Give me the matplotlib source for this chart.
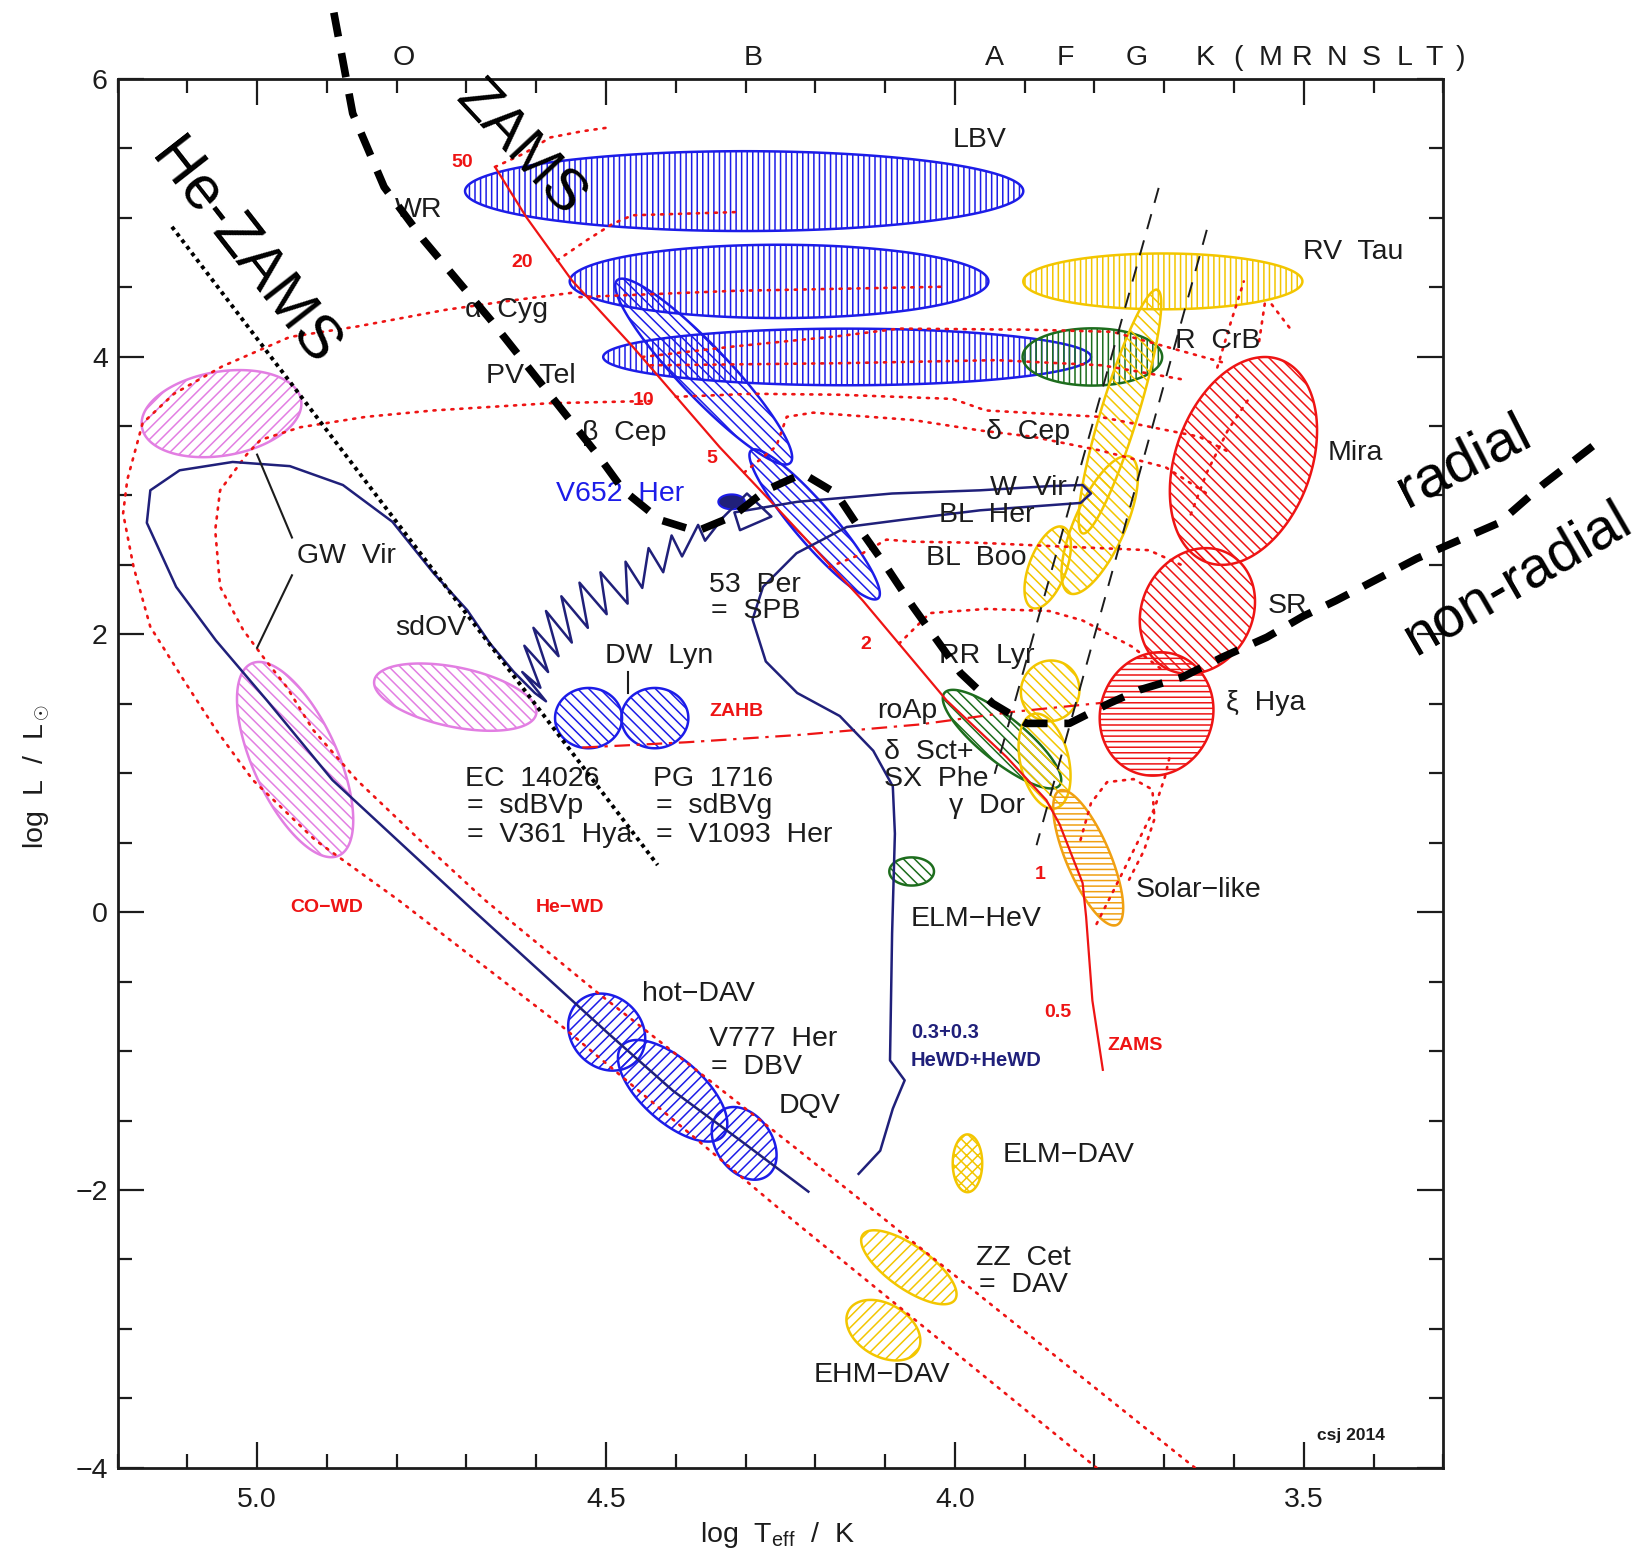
import numpy as np
import matplotlib
matplotlib.use("Agg")
import matplotlib.pyplot as plt
from matplotlib.patches import Polygon
from matplotlib.ticker import MultipleLocator

plt.rcParams['font.family'] = ['Liberation Sans', 'DejaVu Sans']
plt.rcParams['mathtext.fontset'] = 'custom'
plt.rcParams['mathtext.rm'] = 'Liberation Sans'
plt.rcParams['mathtext.it'] = 'Liberation Sans:italic'
plt.rcParams['hatch.linewidth'] = 1.1

# ---------------- data: log Teff / log L ----------------
# zero-age main sequence
zams_T = [4.659, 4.614, 4.549, 4.462, 4.337, 4.266, 4.203, 4.132, 4.012, 3.926, 3.869, 3.850, 3.817, 3.812, 3.803, 3.788]
zams_L = [5.365, 5.002, 4.549, 4.073, 3.347, 2.969, 2.629, 2.243, 1.525, 1.117, 0.807, 0.633, 0.210, -0.032, -0.636, -1.135]

# zero-age horizontal branch
zahb_T = [4.534, 4.385, 4.223, 4.051, 3.917, 3.783]
zahb_L = [1.185, 1.223, 1.276, 1.351, 1.442, 1.510]

# evolutionary tracks (dotted)
co_wd_T = [4.550, 4.633, 4.729, 4.857, 4.953, 5.050, 5.119, 5.164, 5.186, 5.192, 5.177, 5.153, 5.105, 5.059, 5.006, 4.917, 4.798, 4.564, 4.229, 3.797]
co_wd_L = [4.458, 4.405, 4.337, 4.216, 4.141, 3.929, 3.732, 3.521, 3.113, 2.871, 2.485, 2.054, 1.669, 1.314, 0.951, 0.520, 0.089, -0.818, -2.231, -4.000]
he_wd_T = [4.436, 4.580, 4.747, 4.844, 4.938, 4.995, 5.015, 5.053, 5.060, 5.053, 5.020, 4.991, 4.958, 4.920, 4.857, 4.767, 4.674, 4.513, 4.229, 3.656]
he_wd_L = [3.680, 3.664, 3.612, 3.566, 3.491, 3.400, 3.294, 3.037, 2.750, 2.342, 2.032, 1.835, 1.624, 1.314, 0.951, 0.520, 0.089, -0.576, -1.695, -4.000]
trk50_T = [4.659, 4.617, 4.580, 4.534, 4.492]
trk50_L = [5.365, 5.463, 5.577, 5.622, 5.652]
trk20_T = [4.570, 4.528, 4.490, 4.462, 4.313]
trk20_L = [4.692, 4.836, 4.957, 5.017, 5.040]
trk15_T = [4.538, 4.316, 4.012]
trk15_L = [4.428, 4.473, 4.503]
trk12a_T = [4.448, 4.316, 4.165, 4.080, 3.889, 3.774, 3.699, 3.617]
trk12a_L = [3.997, 4.073, 4.148, 4.201, 4.193, 4.178, 4.073, 3.959]
trk12b_T = [4.436, 4.165, 3.940, 3.789, 3.669]
trk12b_L = [3.937, 3.952, 3.974, 3.937, 3.831]
trk10_T = [4.400, 4.290, 4.165, 4.003, 3.956, 3.792, 3.650, 3.609]
trk10_L = [3.710, 3.732, 3.725, 3.695, 3.612, 3.566, 3.423, 3.317]
trk7_T = [4.302, 4.256, 4.241, 4.203, 4.060, 3.964, 3.889, 3.792, 3.698, 3.639]
trk7_L = [3.165, 3.354, 3.566, 3.596, 3.543, 3.468, 3.423, 3.324, 3.203, 3.014]
trk4_T = [4.180, 4.135, 4.098, 4.060, 3.964, 3.865, 3.722, 3.669]
trk4_L = [2.485, 2.576, 2.682, 2.667, 2.659, 2.636, 2.606, 2.485]
trk2_T = [4.080, 4.036, 3.955, 3.865, 3.817, 3.746, 3.699]
trk2_L = [1.933, 2.153, 2.183, 2.168, 2.100, 1.911, 1.729]
trk1a_T = [3.820, 3.805, 3.782, 3.744, 3.717, 3.714, 3.729, 3.752]
trk1a_L = [0.520, 0.785, 0.936, 0.958, 0.883, 0.671, 0.444, 0.218]
trk1b_T = [3.797, 3.774, 3.744, 3.714, 3.699, 3.692]
trk1b_L = [-0.085, 0.142, 0.444, 0.747, 0.974, 1.125]
agb1_T, agb1_L = [3.624, 3.606, 3.586], [3.921, 4.224, 4.541]
agb2_T, agb2_L = [3.564, 3.555], [4.110, 4.413]
agb3_T, agb3_L = [3.546, 3.516], [4.375, 4.178]
agb4_T, agb4_L = [3.662, 3.639, 3.609, 3.579], [2.863, 3.165, 3.468, 3.695]

# post-AGB / white dwarf cooling track, He-flash loops, HeWD+HeWD merger
cool_T = [4.210, 4.302, 4.404, 4.499, 4.692, 4.892, 4.986, 5.059, 5.116, 5.158, 5.153, 5.111, 5.035, 4.953, 4.877, 4.806, 4.747, 4.699, 4.666, 4.632, 4.602, 4.586]
cool_L = [-2.012, -1.664, -1.286, -0.863, 0.021, 0.951, 1.525, 1.956, 2.342, 2.803, 3.037, 3.181, 3.241, 3.211, 3.075, 2.810, 2.440, 2.175, 1.933, 1.729, 1.578, 1.518]
flash_T = [4.620, 4.594, 4.617, 4.583, 4.604, 4.568, 4.586, 4.549, 4.564, 4.526, 4.538, 4.499, 4.508, 4.469, 4.472, 4.448, 4.439, 4.418, 4.406, 4.391, 4.368, 4.358, 4.331]
flash_L = [1.729, 1.616, 1.918, 1.729, 2.047, 1.843, 2.168, 1.941, 2.274, 2.047, 2.372, 2.145, 2.447, 2.221, 2.523, 2.334, 2.621, 2.447, 2.712, 2.561, 2.788, 2.674, 2.848]
loop_T = [4.298, 4.263, 4.308, 4.316, 4.226, 4.090, 3.964, 3.865, 3.817, 3.805, 3.820, 3.964, 4.075, 4.155]
loop_L = [3.014, 2.848, 2.750, 2.878, 2.954, 3.014, 3.037, 3.067, 3.075, 3.014, 2.946, 2.893, 2.825, 2.773]
merger_T = [4.227, 4.275, 4.290, 4.271, 4.226, 4.165, 4.117, 4.089, 4.086, 4.090, 4.093, 4.072, 4.084, 4.089, 4.107, 4.138]
merger_L = [2.584, 2.342, 2.107, 1.805, 1.578, 1.412, 1.162, 0.906, 0.565, -0.153, -1.067, -1.211, -1.354, -1.415, -1.717, -1.884]

# classical instability strip edges
strip_blue_T, strip_blue_L = [3.708, 3.943], [5.214, 0.996]
strip_red_T, strip_red_L = [3.639, 3.883], [4.912, 0.482]

# helium main sequence
he_zams_T, he_zams_L = [5.122, 4.426], [4.934, 0.339]

# radial / non-radial divide
divide_T = [4.890, 4.863, 4.818, 4.761, 4.665, 4.585, 4.510, 4.475, 4.423, 4.370, 4.319, 4.271, 4.218, 4.170,
            4.132, 4.098, 4.060, 3.992, 3.946, 3.898, 3.836, 3.779, 3.735, 3.674, 3.617, 3.553, 3.501, 3.454,
            3.338, 3.220, 3.158, 3.086]
divide_L = [6.476, 5.751, 5.221, 4.836, 4.262, 3.755, 3.279, 3.037, 2.825, 2.742, 2.848, 3.037, 3.158, 3.014,
            2.727, 2.485, 2.198, 1.722, 1.503, 1.359, 1.359, 1.503, 1.601, 1.692, 1.835, 1.979, 2.130, 2.243,
            2.546, 2.803, 3.075, 3.355]

# pulsator regions: ends of the major axis and minor/major axis ratio
reg_name = ['LBV', 'aCyg', 'PVTel', 'bCep', 'SPB', 'DWLyn1', 'DWLyn2', 'hotDAV', 'DBV', 'DQV',
            'ELMHeV', 'RCrB', 'dSct', 'RVTau', 'dCep', 'WVir', 'BLBoo', 'RRLyr', 'gDor', 'solar',
            'Mira', 'SR', 'xiHya', 'GWVir1', 'GWVir2', 'sdOV', 'ELMDAV', 'DAV', 'EHMDAV', 'V652']
reg_T1 = [4.702, 4.552, 4.504, 4.484, 4.292, 4.573, 4.478, 4.541, 4.477, 4.335,
          4.094, 3.903, 4.015, 3.902, 3.710, 3.749, 3.845, 3.847, 3.887, 3.850,
          3.534, 3.606, 3.681, 5.165, 5.008, 4.832, 3.982, 4.132, 4.152, 4.339]
reg_L1 = [5.191, 4.541, 3.997, 4.549, 3.324, 1.397, 1.397, -0.652, -0.961, -1.430,
          0.293, 3.997, 1.578, 4.541, 4.481, 3.279, 2.773, 1.797, 1.427, 0.875,
          3.978, 2.576, 1.850, 3.491, 1.790, 1.669, -1.600, -2.322, -2.866, 2.954]
reg_T2 = [3.902, 3.952, 3.805, 4.236, 4.110, 4.477, 4.382, 4.457, 4.332, 4.269,
          4.030, 3.703, 3.850, 3.502, 3.817, 3.836, 3.889, 3.880, 3.856, 3.768,
          3.639, 3.699, 3.741, 4.937, 4.883, 4.600, 3.982, 4.000, 4.053, 4.301]
reg_L2 = [5.191, 4.541, 3.997, 3.234, 2.259, 1.397, 1.397, -1.075, -1.611, -1.899,
          0.293, 3.997, 0.913, 4.541, 2.727, 2.296, 2.190, 1.389, 0.747, -0.092,
          2.519, 1.760, 1.004, 3.687, 0.407, 1.427, -2.016, -2.791, -3.153, 2.954]
reg_ratio = [0.143, 0.175, 0.116, 0.20, 0.20, 0.90, 0.90, 0.85, 0.46, 0.70,
             0.63, 0.41, 0.30, 0.20, 0.145, 0.34, 0.43, 0.95, 0.50, 0.30,
             0.63, 0.84, 0.90, 0.52, 0.40, 0.36, 0.51, 0.38, 0.66, 0.56]

# labels
black_text = ['LBV', 'WR', 'α  Cyg', 'PV  Tel', 'β  Cep', '53  Per', '=  SPB', 'DW  Lyn',
              'EC  14026', '=  sdBVp', '=  V361  Hya', 'PG  1716', '=  sdBVg', '=  V1093  Her',
              'GW  Vir', 'sdOV', 'hot−DAV', 'V777  Her', '=  DBV', 'DQV', 'ELM−HeV', 'ELM−DAV',
              'ZZ  Cet', '=  DAV', 'EHM−DAV', 'Solar−like', 'ξ  Hya', 'SR', 'Mira', 'R  CrB',
              'RV  Tau', 'δ  Cep', 'W  Vir', 'BL  Her', 'BL  Boo', 'RR  Lyr', 'roAp', 'δ  Sct+',
              'SX  Phe', 'γ  Dor']
black_T = [4.003, 4.803, 4.702, 4.672, 4.534, 4.352, 4.349, 4.501,
           4.702, 4.699, 4.699, 4.433, 4.429, 4.429,
           4.943, 4.802, 4.448, 4.353, 4.349, 4.253, 4.063, 3.932,
           3.970, 3.965, 4.202, 3.741, 3.612, 3.552, 3.466, 3.684,
           3.501, 3.955, 3.950, 4.023, 4.042, 4.023, 4.111, 4.101,
           4.101, 4.008]
black_L = [5.562, 5.055, 4.337, 3.861, 3.453, 2.357, 2.168, 1.843,
           0.958, 0.762, 0.558, 0.958, 0.762, 0.558,
           2.561, 2.047, -0.591, -0.916, -1.113, -1.392, -0.047, -1.748,
           -2.488, -2.684, -3.335, 0.157, 1.503, 2.206, 3.302, 4.110,
           4.753, 3.460, 3.052, 2.856, 2.553, 1.843, 1.447, 1.155,
           0.958, 0.762]
red_text = ['50', '20', '10', '5', '2', '1', '0.5', 'ZAMS', 'ZAHB', 'CO−WD', 'He−WD']
red_T = [4.722, 4.635, 4.462, 4.356, 4.135, 3.886, 3.872, 3.782, 4.352, 4.952, 4.601]
red_L = [5.395, 4.677, 3.680, 3.264, 1.926, 0.271, -0.720, -0.961, 1.442, 0.036, 0.036]
navy_text = ['0.3+0.3', 'HeWD+HeWD']
navy_T = [4.063, 4.063]
navy_L = [-0.863, -1.067]

spec_letters = ['O', 'B', 'A', 'F', 'G', 'K', '(', 'M', 'R', 'N', 'S', 'L', 'T', ')']
spec_T = [4.790, 4.289, 3.943, 3.842, 3.740, 3.642, 3.594, 3.547, 3.502, 3.452, 3.404, 3.356, 3.314, 3.275]

# ---------------- styles ----------------
BLUE = '#1c1ce8'
NAVY = '#20207a'
GREEN = '#1d6d1d'
YELLOW = '#f3c600'
ORANGE = '#f0a012'
RED = '#ee1414'
PINK = '#e27ee2'
INK = '#1c1c1c'
DIAG_B = '\\\\\\'
DIAG_F = '///'
reg_style = {
    'LBV': (BLUE, '|||'), 'aCyg': (BLUE, '|||'), 'PVTel': (BLUE, '|||'),
    'bCep': (BLUE, DIAG_B), 'SPB': (BLUE, DIAG_B), 'DWLyn1': (BLUE, DIAG_B), 'DWLyn2': (BLUE, DIAG_B),
    'hotDAV': (BLUE, DIAG_F), 'DBV': (BLUE, DIAG_F), 'DQV': (BLUE, DIAG_F),
    'ELMHeV': (GREEN, DIAG_B), 'RCrB': (GREEN, '|||'), 'dSct': (GREEN, DIAG_B),
    'RVTau': (YELLOW, '|||'), 'dCep': (YELLOW, DIAG_B), 'WVir': (YELLOW, DIAG_B),
    'BLBoo': (YELLOW, DIAG_B), 'RRLyr': (YELLOW, DIAG_B), 'gDor': (YELLOW, DIAG_B),
    'solar': (ORANGE, '---'), 'Mira': (RED, DIAG_B), 'SR': (RED, DIAG_B), 'xiHya': (RED, '---'),
    'GWVir1': (PINK, DIAG_F), 'GWVir2': (PINK, DIAG_B), 'sdOV': (PINK, DIAG_B),
    'ELMDAV': (YELLOW, 'xxx'), 'DAV': (YELLOW, DIAG_F), 'EHMDAV': (YELLOW, DIAG_F),
    'V652': (NAVY, None),
}
FS = 20.5

fig = plt.figure(figsize=(16.46, 15.56), dpi=100)
ax = fig.add_axes([0.0714, 0.0567, 0.8055, 0.8927])
ax.set_xlim(5.2, 3.3)
ax.set_ylim(-4, 6)


def region(T1, L1, T2, L2, ratio, color, hatch):
    # ellipse built on screen so the minor/major ratio is what you see
    p = ax.transData.transform([(T1, L1), (T2, L2)])
    c = p.mean(axis=0)
    u = (p[1] - p[0]) / 2.0
    v = np.array([-u[1], u[0]]) * ratio
    t = np.linspace(0, 2 * np.pi, 240)
    pts = c + np.outer(np.cos(t), u) + np.outer(np.sin(t), v)
    xy = ax.transData.inverted().transform(pts)
    if hatch is None:
        patch = Polygon(xy, closed=True, facecolor=color, edgecolor=BLUE, lw=1.5, zorder=3)
    else:
        patch = Polygon(xy, closed=True, fill=False, edgecolor=color, hatch=hatch, lw=1.8, zorder=2)
    ax.add_patch(patch)


for i, name in enumerate(reg_name):
    col, hat = reg_style[name]
    region(reg_T1[i], reg_L1[i], reg_T2[i], reg_L2[i], reg_ratio[i], col, hat)

# dotted evolutionary tracks
dots = dict(color=RED, lw=1.9, ls=(0, (0.8, 2.6)), dash_capstyle='round', zorder=3)
for T, L in [(co_wd_T, co_wd_L), (he_wd_T, he_wd_L), (trk50_T, trk50_L), (trk20_T, trk20_L),
             (trk15_T, trk15_L), (trk12a_T, trk12a_L), (trk12b_T, trk12b_L), (trk10_T, trk10_L),
             (trk7_T, trk7_L), (trk4_T, trk4_L), (trk2_T, trk2_L), (trk1a_T, trk1a_L),
             (trk1b_T, trk1b_L), (agb1_T, agb1_L), (agb2_T, agb2_L), (agb3_T, agb3_L),
             (agb4_T, agb4_L)]:
    ax.plot(T, L, **dots)

ax.plot(zams_T, zams_L, color=RED, lw=1.6, zorder=3)
ax.plot(zahb_T, zahb_L, color=RED, lw=1.6, ls=(0, (7, 3, 1.5, 3)), zorder=3)

navy_path_T = cool_T + flash_T + loop_T + merger_T
navy_path_L = cool_L + flash_L + loop_L + merger_L
ax.plot(navy_path_T, navy_path_L, color=NAVY, lw=1.8, zorder=3)

ax.plot(strip_blue_T, strip_blue_L, color=INK, lw=1.4, ls=(0, (8, 6)), zorder=3)
ax.plot(strip_red_T, strip_red_L, color=INK, lw=1.4, ls=(0, (8, 6)), zorder=3)

# pointer lines
ax.plot([5.000, 4.950], [3.294, 2.697], color=INK, lw=1.5, zorder=3)
ax.plot([4.950, 5.000], [2.425, 1.903], color=INK, lw=1.5, zorder=3)
ax.plot([4.469, 4.469], [1.729, 1.578], color=INK, lw=1.5, zorder=3)

# labels
for s, T, L in zip(black_text, black_T, black_L):
    ax.text(T, L, s, ha='left', va='center', fontsize=FS, color=INK, zorder=5)
for s, T, L in zip(red_text, red_T, red_L):
    ax.text(T, L, s, ha='left', va='center', fontsize=14, color=RED, fontweight='bold', zorder=5)
for s, T, L in zip(navy_text, navy_T, navy_L):
    ax.text(T, L, s, ha='left', va='center', fontsize=14.5, color=NAVY, fontweight='bold', zorder=5)
ax.text(4.571, 3.014, 'V652  Her', ha='left', va='center', fontsize=FS, color=BLUE, zorder=5)
ax.text(3.481, -3.766, 'csj 2014', ha='left', va='center', fontsize=12.5, color=INK, fontweight='bold')

# spectral classes along the top
for s, T in zip(spec_letters, spec_T):
    ax.text(T, 1.0151, s, transform=ax.get_xaxis_transform(), ha='center', va='center',
            fontsize=FS, color=INK)

# axes styling
ax.set_xticks([5.0, 4.5, 4.0, 3.5])
ax.set_xticklabels(['5.0', '4.5', '4.0', '3.5'])
ax.set_yticks([-4, -2, 0, 2, 4, 6])
ax.xaxis.set_minor_locator(MultipleLocator(0.1))
ax.yaxis.set_minor_locator(MultipleLocator(0.5))
ax.tick_params(which='both', direction='in', top=True, right=True, width=1.6, color=INK,
               labelsize=FS, labelcolor=INK)
ax.tick_params(which='major', length=19)
ax.tick_params(which='minor', length=10)
ax.tick_params(axis='x', pad=14)
ax.tick_params(axis='y', pad=7)
for sp in ax.spines.values():
    sp.set_linewidth(2)
    sp.set_color(INK)

fig.text(0.472, 0.0135, 'log  T$_{\\rm eff}$  /  K', ha='center', va='center', fontsize=FS, color=INK)
fig.text(0.0223, 0.5007, 'log  L  /  L$_\\odot$', ha='center', va='center', rotation=90,
         fontsize=FS, color=INK)

# overlays: helium main sequence and radial / non-radial boundary
ax.plot(he_zams_T, he_zams_L, color='black', lw=2.8, ls=(0, (1, 1.1)), zorder=6)
ax.plot(divide_T, divide_L, color='black', lw=5.5, ls=(0, (3.2, 2.2)), zorder=6, clip_on=False)
ax.text(4.624, 5.494, 'ZAMS', rotation=-47, rotation_mode='anchor', ha='center', va='center',
        fontsize=42, color='black', zorder=7)
ax.text(5.020, 4.738, 'He-ZAMS', rotation=-52, rotation_mode='anchor', ha='center', va='center',
        fontsize=44, color='black', zorder=7)
ax.text(3.271, 3.241, 'radial', rotation=27, rotation_mode='anchor', ha='center', va='center',
        fontsize=42, color='black', zorder=7)
ax.text(3.195, 2.395, 'non-radial', rotation=30, rotation_mode='anchor', ha='center', va='center',
        fontsize=41, color='black', zorder=7)

fig.savefig('out.png', dpi=100)
